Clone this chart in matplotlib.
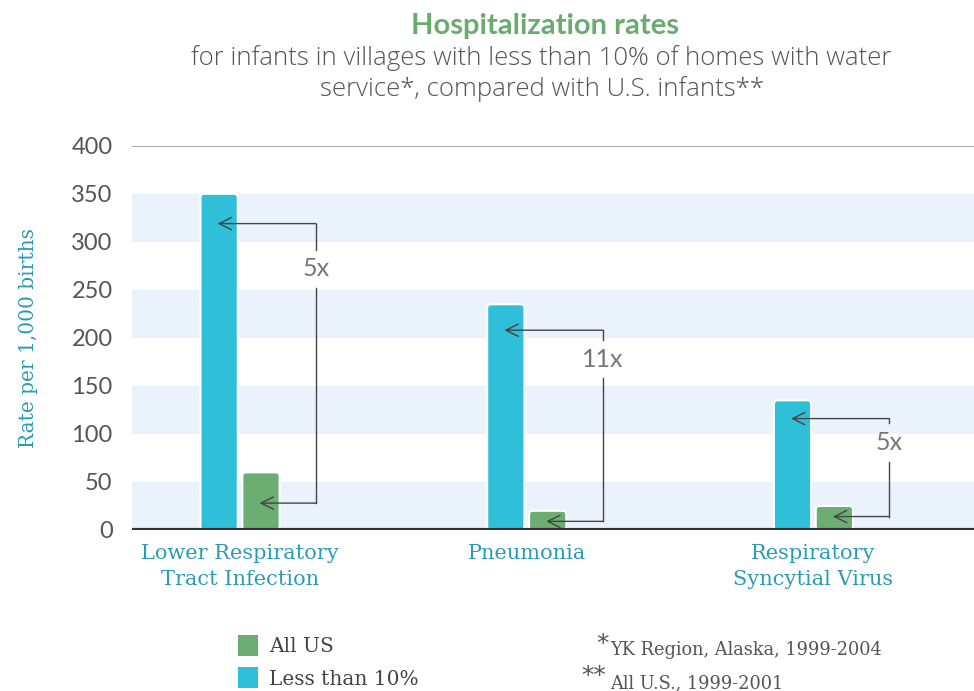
import matplotlib.pyplot as plt
from matplotlib.patches import FancyBboxPatch, Patch
import numpy as np

# data
categories = ['Lower Respiratory\nTract Infection', 'Pneumonia', 'Respiratory\nSyncytial Virus']
less_than_10 = [350, 235, 135]
all_us = [60, 20, 25]
ratio_labels = ['5x', '11x', '5x']
arrow_top = [319, 208, 116]
arrow_bottom = [28, 9, 14]
label_y = [272, 178, 91]

blue = '#2fbfd8'
green = '#6cad72'
teal = '#2a9cb3'
grey = '#555555'

fig = plt.figure(figsize=(9.74, 6.91), dpi=100)
ax = fig.add_axes([0.1355, 0.233, 0.8645, 0.556])

x = np.arange(len(categories))
w = 0.13
off = 0.073

# light blue bands
for lo in range(0, 400, 100):
    ax.axhspan(lo, lo + 50, color='#eaf3fb', zorder=0, lw=0)
ax.axhline(400, color='#aaaaaa', lw=0.8, zorder=1)

# bars with rounded tops
bars_b = ax.bar(x - off, less_than_10, w, color=blue)
bars_g = ax.bar(x + off, all_us, w, color=green)
for bars in (bars_b, bars_g):
    for r in bars:
        r.set_visible(False)
        p = FancyBboxPatch((r.get_x(), r.get_y()), r.get_width(), r.get_height(),
                           boxstyle='round,pad=0,rounding_size=0.014',
                           mutation_aspect=290, fc=r.get_facecolor(),
                           ec='white', lw=1.5, zorder=3)
        ax.add_patch(p)

ax.axhline(0, color='#333333', lw=3, zorder=4)

# arrows / brackets
gap = 20
for i in range(len(categories)):
    bx = x[i] + 0.265
    top, bot, ly = arrow_top[i], arrow_bottom[i], label_y[i]
    ax.plot([bx, bx], [top, ly + gap], color='#444444', lw=1, zorder=5)
    ax.plot([bx, bx], [ly - gap, bot], color='#444444', lw=1, zorder=5)
    ax.annotate('', xy=(x[i] - off - 0.005, top), xytext=(bx, top),
                arrowprops=dict(arrowstyle='->', color='#444444', lw=1,
                                mutation_scale=22, shrinkA=0, shrinkB=0), zorder=5)
    ax.annotate('', xy=(x[i] + off - 0.005, bot), xytext=(bx, bot),
                arrowprops=dict(arrowstyle='->', color='#444444', lw=1,
                                mutation_scale=22, shrinkA=0, shrinkB=0), zorder=5)
    ax.text(bx, ly, ratio_labels[i], ha='center', va='center',
            fontsize=18, color='#777777', family='Lato', zorder=6)

ax.set_xlim(-0.377, 2.56)
ax.set_ylim(0, 400)
ax.set_yticks(range(0, 401, 50))
ax.set_xticks(x)
ax.set_xticklabels(categories, fontsize=15, color=teal, family='DejaVu Serif',
                   linespacing=1.5)
for t in ax.get_yticklabels():
    t.set_fontsize(17)
    t.set_color('#555555')
    t.set_family('Lato')
ax.tick_params(length=0)
ax.tick_params(axis='y', pad=14)
ax.tick_params(axis='x', pad=10)
for s in ax.spines.values():
    s.set_visible(False)
ax.set_ylabel('Rate per 1,000 births', fontsize=14.5, color=teal, family='DejaVu Serif',
              labelpad=24)

# titles
fig.text(0.56, 0.962, 'Hospitalization rates', ha='center', va='center', fontsize=21,
         fontweight='bold', color='#6aab70', family='Lato')
fig.text(0.556, 0.893, 'for infants in villages with less than 10% of homes with water\nservice*, compared with U.S. infants**',
         ha='center', va='center', fontsize=18.5, color='#555555', family='Open Sans',
         fontweight='light', linespacing=1.25)

# legend
handles = [Patch(fc=green, ec='none'), Patch(fc=blue, ec='none')]
fig.legend(handles, ['All US', 'Less than 10%'], loc='upper left',
           bbox_to_anchor=(0.226, 0.107), frameon=False,
           handlelength=1.0, handleheight=1.2, labelspacing=0.55, handletextpad=0.55,
           prop={'family': 'DejaVu Serif', 'size': 14.5})
for t in fig.legends[0].get_texts():
    t.set_color('#444444')

# footnotes
fig.text(0.612, 0.068, '*', fontsize=18, color=grey, family='DejaVu Sans', va='center')
fig.text(0.626, 0.059, 'YK Region, Alaska, 1999-2004', fontsize=12.8, color=grey,
         family='DejaVu Serif', va='center')
fig.text(0.597, 0.022, '**', fontsize=18, color=grey, family='DejaVu Sans', va='center')
fig.text(0.626, 0.011, 'All U.S., 1999-2001', fontsize=12.8, color=grey,
         family='DejaVu Serif', va='center')

fig.savefig('out.png', dpi=100)
